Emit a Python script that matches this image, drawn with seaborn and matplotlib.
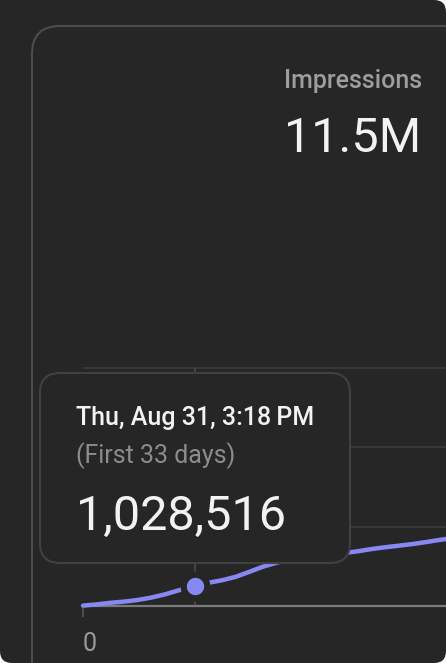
import matplotlib
matplotlib.use('Agg')
import matplotlib.pyplot as plt
from matplotlib.patches import FancyBboxPatch, Rectangle
from matplotlib.transforms import IdentityTransform
import numpy as np
import pandas as pd
import seaborn as sns

# size of the picture in pixels
W, H = 446, 663

days = [0, 4, 8, 12, 16, 20, 24, 28, 33, 37, 41, 45, 49, 53, 57, 61, 65,
        69, 73, 77, 81, 85, 89, 93, 97, 101, 105, 108]
impressions = [0.02e6, 0.08e6, 0.16e6, 0.22e6, 0.30e6, 0.42e6, 0.58e6, 0.78e6,
               1028516, 1.17e6, 1.30e6, 1.47e6, 1.72e6, 1.98e6, 2.18e6, 2.35e6,
               2.45e6, 2.53e6, 2.60e6, 2.67e6, 2.76e6, 2.87e6, 2.96e6, 3.04e6,
               3.12e6, 3.22e6, 3.33e6, 3.40e6]
hover_day = 33
hover_value = 1028516
hover_date = 'Thu, Aug 31, 3:18\u2009PM'
hover_note = '(First 33 days)'
metric_name = 'Impressions'
metric_total = '11.5M'
y_ticks = [0, 4e6, 8e6, 12e6]
x_ticks = [0]
x_tick_labels = ['0']

BG = '#262626'
LINE = '#8888f2'

sns.set_theme(style='dark')
plt.rcParams['font.family'] = ['Roboto', 'DejaVu Sans']

fig = plt.figure(figsize=(W / 100, H / 100), dpi=100)
fig.patch.set_facecolor('white')


def rbox(x0, y0, x1, y1, r, z, **kw):
    # rounded box in pixel coords, y measured from the top
    p = FancyBboxPatch((x0 + r, H - y1 + r), (x1 - x0) - 2 * r, (y1 - y0) - 2 * r,
                       boxstyle=f'round,pad={r}', transform=IdentityTransform(),
                       zorder=z, **kw)
    fig.add_artist(p)


def txt(x, y, s, **kw):
    fig.text(x / W, 1 - y / H, s, va='baseline', **kw)


# outer dark card (top-left corner is square)
rbox(0, 0, W, H, 12, -10, facecolor=BG, edgecolor='none')
fig.add_artist(Rectangle((0, H - 40), 40, 40, transform=IdentityTransform(),
                         facecolor=BG, edgecolor='none', zorder=-9))
# inner card outline
rbox(32, 26, W + 60, H + 60, 28, -8, facecolor='none', edgecolor='#4c4c4c', lw=1.5)

# chart
top_px, base_px = 356, 606
ymax = 12e6 * (base_px - top_px) / (606 - 368)
ax = fig.add_axes([83 / W, (H - base_px) / H, (W - 83) / W, (base_px - top_px) / H])
ax.set_facecolor('none')
for s in ['top', 'right', 'left']:
    ax.spines[s].set_visible(False)
ax.spines['bottom'].set_color('#7a7a7a')
ax.spines['bottom'].set_linewidth(1.6)
ax.set_xlim(0, 107)
ax.set_ylim(0, ymax)
ax.set_yticks(y_ticks)
ax.set_yticklabels([])
ax.tick_params(axis='y', length=0)
ax.yaxis.grid(True, color='#3b3b3b', lw=1.3)
ax.xaxis.grid(False)
ax.set_xticks(x_ticks)
ax.set_xticklabels(x_tick_labels)
ax.tick_params(axis='x', length=8, width=1.2, color='#555555', pad=11,
               labelsize=18, labelcolor='#9a9a9a', bottom=True)
for lab in ax.get_xticklabels():
    lab.set_horizontalalignment('left')
ax.vlines(hover_day, 0, 12e6, color='#484848', lw=1.3, zorder=1)

df = pd.DataFrame({'day': days, 'impressions': impressions})
sns.lineplot(data=df, x='day', y='impressions', color=LINE, lw=3.2, ax=ax,
             zorder=3, clip_on=False)
ax.plot([hover_day], [hover_value], 'o', ms=17, mfc=LINE, mec=BG, mew=4.5,
        zorder=4, clip_on=False)
ax.set_xlabel('')
ax.set_ylabel('')

# header
txt(422, 88, metric_name, ha='right', fontsize=18, color='#9e9e9e', fontweight='medium')
txt(421, 152, metric_total, ha='right', fontsize=35, color='#f2f2f2')

# tooltip
rbox(40, 373, 350, 563, 20, 5, facecolor=BG, edgecolor='#404040', lw=1.5)
txt(76, 425, hover_date, fontsize=18, color='#f2f2f2', fontweight='medium', zorder=6)
txt(76, 463, hover_note, fontsize=18, color='#8c8c8c', zorder=6)
txt(76, 530, f'{hover_value:,}', fontsize=35, color='#f2f2f2', zorder=6)

fig.savefig('out.png', dpi=100, facecolor=fig.get_facecolor())
